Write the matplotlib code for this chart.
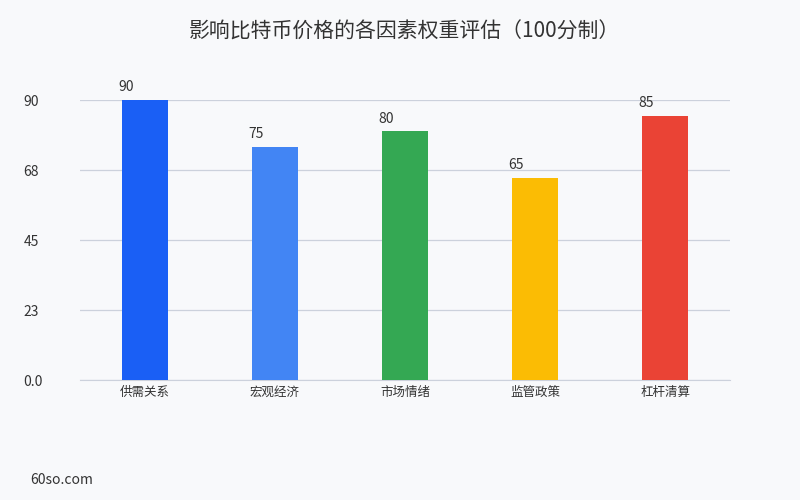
import matplotlib
matplotlib.use("Agg")
import matplotlib.pyplot as plt
import numpy as np

plt.rcParams['font.family'] = ['Noto Sans CJK SC', 'DejaVu Sans']

categories = ["供需关系", "宏观经济", "市场情绪", "监管政策", "杠杆清算"]
values = [90, 75, 80, 65, 85]
colors = ["#1a5ff5", "#4285f4", "#34a853", "#fbbc04", "#ea4335"]
yticks = [0, 22.5, 45, 67.5, 90]
ytick_labels = ["0.0", "23", "45", "68", "90"]
title = "影响比特币价格的各因素权重评估（100分制）"

bg = "#f8f9fb"
fig = plt.figure(figsize=(8, 5), dpi=100, facecolor=bg)
ax = fig.add_axes([0.1, 0.24, 0.8125, 0.56], facecolor=bg)

x = np.arange(len(categories))
bw = 46 / 130
ax.bar(x, values, width=bw, color=colors, zorder=3)
ax.set_xlim(-0.5, len(categories) - 0.5)
ax.set_ylim(0, 90)

for xi, v in zip(x, values):
    ax.text(xi - bw / 2 + 0.03, v + 1.8, str(v), ha='center', va='bottom',
            fontsize=10, color="#333333")

ax.set_yticks(yticks)
ax.set_yticklabels(ytick_labels)
ax.set_xticks(x)
ax.set_xticklabels(categories)
ax.tick_params(axis='y', length=0, pad=55 - 20 * 72 / 100, labelsize=10, labelcolor="#333333")
for lab in ax.get_yticklabels():
    lab.set_horizontalalignment('left')
ax.tick_params(axis='x', length=0, pad=4, labelsize=9, labelcolor="#333333")
ax.grid(axis='y', color="#ccd1dc", linewidth=0.9, zorder=0)
for s in ['top', 'right', 'left']:
    ax.spines[s].set_visible(False)
ax.spines['bottom'].set_color("#ccd1dc")

fig.text(0.5 + 4 / 800, 1 - 32 / 500, title, ha='center', va='center', fontsize=15, color="#333333")
fig.text(30 / 800, 1 - 480 / 500, "60so.com", ha='left', va='center', fontsize=10, color="#333333")

fig.savefig("out.png", dpi=100, facecolor=bg)
